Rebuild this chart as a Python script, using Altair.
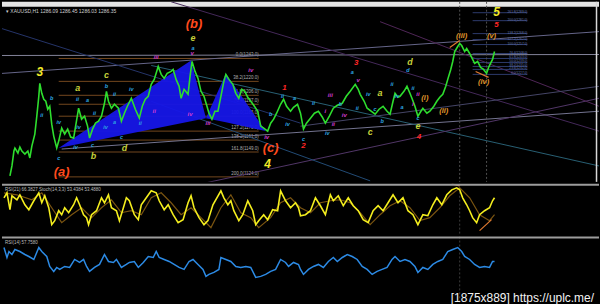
import altair as alt
import pandas as pd

# ---------------- main price panel ----------------
price_bar = [8,10,12,13,16,18,20,23,26,28, 30,33,35,37,38,40,42,44,46,48,
             50,52,55,57,60,63,66,69,72,74, 77,80,83,86,88,91,94,97,100,103,
             105,107,110,113,117,120,123,126,130,134, 138,141,144,147,150,153,157,160,163,166,
             170,172,175,178,180,183,187,189,191,194, 197,200,203,206,208,211,214,217,220,223,
             225,228,232,235,238,241,244,247,250,253, 257,260,263,267,270,273,276,280,283,286,
             290,293,297,300,303,306,310,314,318,322, 325,329,333,337,342,346,350,355,358,360,
             364,367,371,375,379,383,387,390,393,395, 398,400,404,407,410,412,415,418,421,423,
             427,430,434,437,440,443,446,448,451,453, 455,458,460,462,465,467,470,473,475,478,
             481,484,487,489,491,493,495]
price_close = [1125,1135,1150,1153,1148,1154,1150,1147,1150,1143, 1155,1167,1185,1205,1218,1208,1202,1200,1192,1195,
               1177,1165,1153,1160,1173,1167,1172,1164,1163,1175, 1193,1182,1185,1175,1163,1172,1178,1180,1185,1198,
               1210,1200,1193,1197,1193,1180,1188,1195,1203,1192, 1183,1195,1202,1205,1217,1222,1235,1227,1223,1228,
               1230,1232,1222,1215,1203,1212,1207,1225,1240,1230, 1223,1210,1205,1195,1188,1182,1190,1190,1205,1220,
               1227,1222,1217,1208,1203,1212,1210,1204,1200,1196, 1190,1175,1173,1170,1178,1182,1188,1197,1202,1195,
               1190,1194,1197,1188,1172,1178,1183,1188,1190,1184, 1178,1185,1193,1196,1198,1205,1210,1217,1212,1207,
               1200,1193,1190,1187,1192,1195,1190,1187,1200,1208, 1204,1205,1210,1215,1208,1203,1195,1185,1190,1193,
               1188,1190,1195,1200,1204,1207,1215,1222,1232,1240, 1250,1255,1258,1256,1250,1253,1248,1242,1238,1240,
               1234,1232,1228,1234,1238,1242,1250]

# harmonic pattern triangles (XAB, BCD)
tri_shape = ["XAB", "XAB", "XAB", "BCD", "BCD", "BCD"]
tri_bar = [57, 190, 205, 205, 225, 265]
tri_top = [1153, 1241, 1183, 1183, 1228, 1170]
tri_bottom = [1153, 1180, 1183, 1183, 1179, 1170]

# left fibonacci grid
fib_ratio = ["0.0", "38.2", "61.8", "76.4", "100.0", "127.2", "138.2", "161.8", "200.0"]
fib_price = [1243, 1220, 1206, 1197, 1185, 1170, 1161, 1149, 1124]
fib_from, fib_to = 57, 258

# right fibonacci extension
fib2_ratio = ["261.8", "200.0", "138.2", "127.2", "100.0", "76.4", "61.8", "50.0", "38.2", "23.6", "0.0"]
fib2_price = [1289, 1281, 1268, 1262, 1257, 1248, 1243, 1239, 1235, 1232, 1227]
fib2_from, fib2_to = 473, 528

# trend / channel lines (bar1, price1, bar2, price2, colour)
ln_b1 = [0, 0, 0, 170, 60, 150, 200, 150, 380, 300]
ln_p1 = [1228, 1246, 1273, 1300, 1152, 1236, 1117, 1200, 1280, 1175]
ln_b2 = [600, 600, 300, 600, 600, 600, 600, 370, 600, 600]
ln_p2 = [1270, 1247, 1178, 1170, 1190, 1135, 1203, 1120, 1195, 1215]
ln_col = ["#66668a", "#84849a", "#25346a", "#45285a", "#747490", "#286074", "#523668", "#224c76", "#502658", "#464668"]

# orange arrows in price panel
arr_b1 = [450, 476]
arr_p1 = [1254, 1230]
arr_b2 = [460, 489]
arr_p2 = [1261, 1224]

# wave labels
lab_kind = (["big"] * 3 + ["deg"] * 3 + ["ord"] * 5 + ["red"] * 5 + ["yg"] * 9 + ["mag"] * 14 + ["cy"] * 37)
lab_text = (["3", "4", "5"] + ["(a)", "(b)", "(c)"] +
            ["(iii)", "(iv)", "(v)", "(ii)", "(i)"] +
            ["1", "2", "3", "4", "5"] +
            ["a", "b", "c", "d", "e", "d", "a", "c", "e"] +
            ["iii", "v", "ii", "iv", "iii", "iv", "iv", "iii", "i", "ii", "iv", "v", "ii", "i"] +
            ["b", "ii", "iv", "c", "ii", "iv", "a", "iv", "ii", "c", "b", "iv", "ii", "a", "c", "iv", "ii", "a",
             "b", "ii", "iv", "a", "c", "ii", "iv", "b", "ii", "a", "iv", "c", "b", "ii", "iv", "a", "d", "ii", "c"])
lab_bar = ([38, 267, 497] + [60, 193, 270] + [462, 484, 492, 444, 425] + [284, 303, 356, 419, 497] +
           [76, 92, 105, 123, 192, 410, 380, 370, 418] +
           [155, 191, 153, 189, 207, 250, 266, 330, 325, 333, 344, 358, 418, 413] +
           [50, 40, 57, 57, 76, 77, 86, 74, 93, 91, 105, 104, 113, 113, 120, 130, 139, 192, 270, 282, 287, 294,
            303, 313, 327, 340, 357, 352, 368, 375, 382, 392, 397, 402, 408, 413, 418])
lab_price = ([1229, 1137, 1290] + [1129, 1278, 1153] + [1266, 1219, 1266, 1190, 1203] +
             [1213, 1155, 1238, 1164, 1277] +
             [1213, 1145, 1226, 1153, 1264, 1239, 1208, 1169, 1175] +
             [1244, 1248, 1190, 1187, 1178, 1231, 1164, 1206, 1190, 1177, 1186, 1221, 1207, 1197] +
             [1203, 1186, 1179, 1143, 1202, 1174, 1201, 1154, 1188, 1156, 1215, 1174, 1207, 1179, 1164, 1212,
              1178, 1254, 1187, 1205, 1177, 1203, 1162, 1198, 1168, 1197, 1193, 1229, 1207, 1192, 1180, 1217,
              1205, 1194, 1231, 1213, 1183])

# ---------------- oscillator 1 (yellow + signal) ----------------
osc1_bar = [2,5,8,10,15,18,23,27,32,37,40,43,47,50,53,57,60,63,67,72,75,78,82,85,87,90,95,100,103,107,
            110,115,118,122,125,128,133,137,140,145,150,155,158,163,167,172,177,182,187,190,193,198,203,207,
            212,220,223,227,230,233,238,242,247,252,255,258,263,267,272,277,280,285,290,295,298,
            300,305,310,315,320,325,330,333,338,343,348,353,358,363,368,373,378,383,388,393,398,403,408,413,
            418,423,428,433,437,442,447,452,457,460,463,467,470,473,477,480,485,490,493,495]
osc1_val = [74,84,50,78,70,80,60,50,68,84,64,78,54,20,28,48,40,54,44,60,74,60,40,34,20,40,48,74,64,80,
            54,48,28,54,74,68,40,30,60,74,88,84,68,50,60,40,24,30,64,78,54,34,20,28,
            60,88,74,60,68,48,28,40,68,48,20,28,40,30,50,48,88,68,54,64,54,
            38,40,48,74,58,40,80,68,78,58,74,58,48,30,24,48,58,48,64,80,64,74,48,40,
            20,40,38,60,74,60,80,90,94,90,74,60,48,34,24,40,48,54,68,74]
sig_bar = [2,15,30,40,50,60,70,80,90,100,110,120,130,140,150,160,170,180,190,200,210,220,230,240,250,258,
           270,280,290,300,310,320,330,340,350,360,370,380,390,400,410,420,430,440,450,460,470,480,490,495]
sig_val = [84,80,70,84,54,24,40,54,34,54,70,44,48,40,74,84,64,40,54,34,14,54,80,44,34,14,
           34,64,74,54,44,64,68,70,64,44,20,40,58,68,54,28,34,54,78,94,74,40,28,40]
div_b1 = [452, 480]
div_v1 = [102, 8]
div_b2 = [460, 492]
div_v2 = [98, 30]

# ---------------- oscillator 2 (blue) ----------------
osc2_bar = [2,5,7,10,13,18,23,27,32,37,40,45,48,52,55,58,63,68,73,78,82,85,88,93,98,103,107,112,115,120,
            125,128,133,137,142,147,152,155,158,163,168,173,178,183,188,192,197,202,205,208,213,218,220,225,
            230,235,240,245,250,255,260,265,270,275,280,285,288,293,298,300,303,308,313,318,323,328,333,337,
            342,347,352,357,362,367,372,377,382,387,392,395,400,405,410,415,418,423,428,433,438,443,448,453,
            458,462,465,470,475,480,485,490,493,495]
osc2_val = [57,47,53,50,55,53,50,48,45,57,53,48,38,33,37,35,38,37,45,42,45,38,33,37,40,50,43,42,45,37,
            40,42,43,37,42,48,47,53,47,45,43,40,37,35,43,45,40,35,28,30,32,35,47,45,
            43,38,37,38,37,27,28,30,33,35,45,42,38,42,40,35,30,35,38,40,37,43,47,43,
            47,50,48,45,38,35,30,33,35,37,45,48,43,45,43,38,32,37,35,40,43,45,53,55,
            57,53,48,45,40,37,38,37,43,43]

# ---------------- build ----------------
W = 600
XS = alt.Scale(domain=[0, 600], nice=False, zero=False)
YP = alt.Scale(domain=[1119, 1300], nice=False, zero=False)
Y1 = alt.Scale(domain=[0, 102], nice=False, zero=False)
Y2 = alt.Scale(domain=[-4, 68], nice=False, zero=False)
FONT = "Liberation Sans"

price_df = pd.DataFrame({"bar": price_bar, "price": price_close})
tri_df = pd.DataFrame({"shape": tri_shape, "bar": tri_bar, "top": tri_top, "bottom": tri_bottom})
fib_df = pd.DataFrame({"ratio": fib_ratio, "price": fib_price})
fib_df["b1"] = fib_from
fib_df["b2"] = fib_to
fib_df["label"] = fib_df["ratio"] + "(" + fib_df["price"].astype(str) + ".0)"
fib2_df = pd.DataFrame({"ratio": fib2_ratio, "price": fib2_price})
fib2_df["b1"] = fib2_from
fib2_df["b2"] = fib2_to
fib2_df["label"] = fib2_df["ratio"] + "(" + fib2_df["price"].astype(str) + ".0)"
ln_df = pd.DataFrame({"b1": ln_b1, "p1": ln_p1, "b2": ln_b2, "p2": ln_p2, "col": ln_col})
arr_df = pd.DataFrame({"b1": arr_b1, "p1": arr_p1, "b2": arr_b2, "p2": arr_p2})
lab_df = pd.DataFrame({"bar": lab_bar, "price": lab_price, "text": lab_text, "kind": lab_kind})
one = pd.DataFrame({"k": [0]})

def bx(f="bar"):
    return alt.X(f"{f}:Q", scale=XS, axis=None)

strip = alt.Chart(one).mark_rect(color="#e4e4e4").encode(
    x=alt.value(0), x2=alt.value(W), y=alt.value(0), y2=alt.value(5))

lines = alt.Chart(ln_df).mark_rule(clip=True, strokeWidth=1).encode(
    x=bx("b1"), x2="b2:Q",
    y=alt.Y("p1:Q", scale=YP, axis=None), y2="p2:Q",
    color=alt.Color("col:N", scale=None))

fib_lines = alt.Chart(fib_df).mark_rule(color="#74481e", strokeWidth=1).encode(
    x=bx("b1"), x2="b2:Q", y=alt.Y("price:Q", scale=YP, axis=None))
fib_text = alt.Chart(fib_df).mark_text(align="right", dy=-3, fontSize=4.5, font=FONT, color="#b0b0b0").encode(
    x=bx("b2"), y=alt.Y("price:Q", scale=YP, axis=None), text="label:N")
fib2_lines = alt.Chart(fib2_df).mark_rule(color="#2c3a6c", strokeWidth=1).encode(
    x=bx("b1"), x2="b2:Q", y=alt.Y("price:Q", scale=YP, axis=None))
fib2_text = alt.Chart(fib2_df).mark_text(align="right", dy=-1, fontSize=3.2, font=FONT, color="#6a78b0").encode(
    x=bx("b2"), y=alt.Y("price:Q", scale=YP, axis=None), text="label:N")

tri = alt.Chart(tri_df).mark_area(color="#1616e8", opacity=0.95).encode(
    x=bx(), y=alt.Y("top:Q", scale=YP, axis=None), y2="bottom:Q", detail="shape:N")

vrules = alt.Chart(pd.DataFrame({"bar": [460, 487]})).mark_rule(
    color="#505050", strokeDash=[2, 2], strokeWidth=1).encode(x=bx())
border = alt.Chart(pd.DataFrame({"bar": [597.5]})).mark_rule(color="#d8d8d8", strokeWidth=1.5).encode(x=bx())

pline = alt.Chart(price_df).mark_line(color="#2ede2e", strokeWidth=1.6).encode(
    x=bx(), y=alt.Y("price:Q", scale=YP, axis=None))

arrows = alt.Chart(arr_df).mark_rule(color="#e07a30", strokeWidth=1.2).encode(
    x=bx("b1"), x2="b2:Q", y=alt.Y("p1:Q", scale=YP, axis=None), y2="p2:Q")

styles = {
    "big": dict(color="#f2ea2a", fontSize=12, fontWeight="bold"),
    "deg": dict(color="#ff4a1c", fontSize=13, fontWeight="bold"),
    "ord": dict(color="#e0982c", fontSize=7.5, fontWeight="bold"),
    "red": dict(color="#ff2626", fontSize=8, fontWeight="bold"),
    "yg": dict(color="#c6d03a", fontSize=9, fontWeight="bold"),
    "mag": dict(color="#d23cd2", fontSize=6, fontWeight="bold"),
    "cy": dict(color="#2ea6e2", fontSize=5.5, fontWeight="bold"),
}
label_layers = []
for kind, st in styles.items():
    label_layers.append(
        alt.Chart(lab_df).transform_filter(alt.datum.kind == kind).mark_text(
            font=FONT, fontStyle="italic", **st).encode(
            x=bx(), y=alt.Y("price:Q", scale=YP, axis=None), text="text:N"))

head_main = alt.Chart(one).mark_text(
    align="left", fontSize=5, font=FONT, color="#cfcfcf",
    text="\u25BE XAUUSD,H1  1286.09 1286.45 1286.03 1286.35").encode(x=alt.value(4), y=alt.value(9))

main = alt.layer(strip, fib_lines, fib_text, lines, fib2_lines, fib2_text, tri, vrules, pline, arrows,
                 *label_layers, border, head_main).properties(width=W, height=181)

# oscillator 1
o1 = pd.DataFrame({"bar": osc1_bar, "v": osc1_val})
s1 = pd.DataFrame({"bar": sig_bar, "v": sig_val})
d1 = pd.DataFrame({"b1": div_b1, "v1": div_v1, "b2": div_b2, "v2": div_v2})
sep1 = alt.Chart(one).mark_rule(color="#9c9c9c", strokeWidth=2).encode(y=alt.value(1))
vr1 = alt.Chart(pd.DataFrame({"bar": [460]})).mark_rule(color="#3c3c3c", strokeDash=[2, 2]).encode(x=bx())
sig_line = alt.Chart(s1).mark_line(color="#7a5410", strokeWidth=1.2).encode(
    x=bx(), y=alt.Y("v:Q", scale=Y1, axis=None))
ylw = alt.Chart(o1).mark_line(color="#f4ee1e", strokeWidth=1.6).encode(
    x=bx(), y=alt.Y("v:Q", scale=Y1, axis=None))
div = alt.Chart(d1).mark_rule(color="#e07a30", strokeWidth=1.2, clip=True).encode(
    x=bx("b1"), x2="b2:Q", y=alt.Y("v1:Q", scale=Y1, axis=None), y2="v2:Q")
head1 = alt.Chart(one).mark_text(
    align="left", fontSize=4.5, font=FONT, color="#bdbdbd",
    text="RSI(21) 66.3827  Stoch(14,3,3) 53.4384 53.4880").encode(x=alt.value(3), y=alt.value(6))
osc1 = alt.layer(vr1, sig_line, ylw, div, sep1, head1).properties(width=W, height=51)

# oscillator 2
o2 = pd.DataFrame({"bar": osc2_bar, "v": osc2_val})
sep2 = alt.Chart(one).mark_rule(color="#9c9c9c", strokeWidth=2).encode(y=alt.value(1))
blue = alt.Chart(o2).mark_line(color="#2c8ae4", strokeWidth=1.5).encode(
    x=bx(), y=alt.Y("v:Q", scale=Y2, axis=None))
head2 = alt.Chart(one).mark_text(
    align="left", fontSize=4.5, font=FONT, color="#bdbdbd",
    text="RSI(14) 57.7580").encode(x=alt.value(3), y=alt.value(6))
wm = alt.Chart(one).mark_text(
    align="right", fontSize=12, font=FONT, color="#f2f2f2",
    text="[1875x889] https://uplc.me/").encode(x=alt.value(595), y=alt.value(62))
osc2 = alt.layer(vr1, blue, sep2, head2, wm).properties(width=W, height=72)

chart = alt.vconcat(main, osc1, osc2, spacing=0).configure(
    background="#000000", padding=0).configure_view(stroke=None)

chart.save("out.html", embed_options={"renderer": "svg", "actions": False})
